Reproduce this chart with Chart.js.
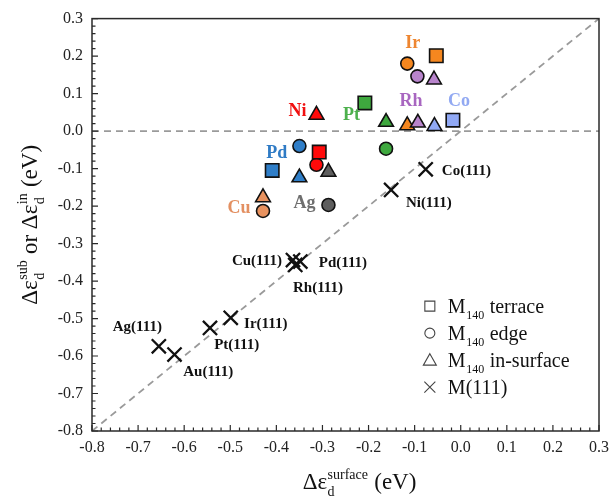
<!DOCTYPE html>
<html lang="en">
  <head>
    <meta charset="utf-8">
    <script src="https://cdn.jsdelivr.net/npm/chart.js"></script>
    <title>d-band centre shifts</title>
    <style>
      body { margin: 0; background: #fff; }
    </style>
  </head>
  <body>
    <canvas id="chart" width="616" height="498"></canvas>
  </body>
  <script>
    // axis ticks
    const tickValues = [-0.8, -0.7, -0.6, -0.5, -0.4, -0.3, -0.2, -0.1, 0.0, 0.1, 0.2, 0.3];

    // colours of each metal
    const metalColors = {
      Ir: '#F5871F', Rh: '#B884CC', Co: '#91A9F5', Pt: '#3EA83E',
      Ni: '#FF0a0a', Pd: '#2F7EC8', Cu: '#E8925F', Ag: '#5E5E5E'
    };
    const labelColors = {
      Ir: '#EE8630', Rh: '#A866C0', Co: '#92A9F2', Pt: '#4DB04D',
      Ni: '#F01010', Pd: '#2F7BC5', Cu: '#E39062', Ag: '#6E6E6E'
    };

    // M140 terrace (squares)
    const terraceMetal = ['Ir', 'Pt', 'Co', 'Ni', 'Pd'];
    const terraceX = [-0.053, -0.208, -0.017, -0.307, -0.409];
    const terraceY = [0.201, 0.075, 0.029, -0.056, -0.105];

    // M140 edge (circles)
    const edgeMetal = ['Ir', 'Rh', 'Pt', 'Pd', 'Ni', 'Cu', 'Ag'];
    const edgeX = [-0.116, -0.094, -0.162, -0.350, -0.313, -0.429, -0.287];
    const edgeY = [0.180, 0.146, -0.047, -0.040, -0.090, -0.213, -0.197];

    // M140 in-surface (triangles)
    const inSurfMetal = ['Rh', 'Ni', 'Pt', 'Ir', 'Rh', 'Co', 'Ag', 'Pd', 'Cu'];
    const inSurfX = [-0.058, -0.313, -0.162, -0.116, -0.093, -0.057, -0.287, -0.350, -0.429];
    const inSurfY = [0.137, 0.043, 0.024, 0.015, 0.022, 0.013, -0.109, -0.124, -0.177];

    // M(111) (crosses)
    const slabNames = ['Co(111)', 'Ni(111)', 'Cu(111)', 'Pd(111)', 'Rh(111)', 'Ir(111)', 'Pt(111)', 'Ag(111)', 'Au(111)'];
    const slabX = [-0.076, -0.151, -0.364, -0.348, -0.359, -0.499, -0.544, -0.655, -0.621];
    const slabY = [-0.102, -0.157, -0.344, -0.348, -0.357, -0.498, -0.525, -0.574, -0.596];

    // text annotations (data coordinates)
    const metalLabels = [
      ['Ir', -0.104, 0.234], ['Rh', -0.108, 0.080], ['Co', -0.004, 0.080], ['Pt', -0.237, 0.043],
      ['Ni', -0.354, 0.053], ['Pd', -0.399, -0.059], ['Cu', -0.481, -0.205], ['Ag', -0.339, -0.194]
    ];
    const slabLabels = [
      ['Co(111)', -0.041, -0.106, 'left'], ['Ni(111)', -0.119, -0.191, 'left'],
      ['Cu(111)', -0.388, -0.348, 'right'], ['Pd(111)', -0.308, -0.351, 'left'],
      ['Rh(111)', -0.364, -0.418, 'left'], ['Ir(111)', -0.470, -0.516, 'left'],
      ['Pt(111)', -0.535, -0.572, 'left'], ['Ag(111)', -0.755, -0.524, 'left'],
      ['Au(111)', -0.602, -0.644, 'left']
    ];

    const serif = '"Liberation Serif", "Times New Roman", serif';
    const pts = (xs, ys) => xs.map((x, i) => ({ x: x, y: ys[i] }));

    // text with stacked sub/superscripts: parts are strings or {sub, sup}
    function richWidth(ctx, parts, size) {
      let w = 0;
      parts.forEach(p => {
        if (typeof p === 'string') {
          ctx.font = size + 'px ' + serif;
          w += ctx.measureText(p).width;
        } else {
          ctx.font = Math.round(size * 0.62) + 'px ' + serif;
          w += Math.max(ctx.measureText(p.sub || '').width, ctx.measureText(p.sup || '').width) + 1;
        }
      });
      return w;
    }
    function drawRich(ctx, parts, x, y, size, align) {
      let cx = align === 'center' ? x - richWidth(ctx, parts, size) / 2 : x;
      ctx.textAlign = 'left';
      ctx.textBaseline = 'alphabetic';
      parts.forEach(p => {
        if (typeof p === 'string') {
          ctx.font = size + 'px ' + serif;
          ctx.fillText(p, cx, y);
          cx += ctx.measureText(p).width;
        } else {
          const s = Math.round(size * 0.62);
          ctx.font = s + 'px ' + serif;
          if (p.sub) ctx.fillText(p.sub, cx + 0.5, y + size * 0.3);
          if (p.sup) ctx.fillText(p.sup, cx + 0.5, y - size * 0.42);
          cx += Math.max(ctx.measureText(p.sub || '').width, ctx.measureText(p.sup || '').width) + 1;
        }
      });
    }

    function drawMarker(ctx, style, x, y) {
      ctx.beginPath();
      if (style === 'rect') {
        ctx.rect(x - 5, y - 5, 10, 10);
      } else if (style === 'circle') {
        ctx.arc(x, y, 5, 0, Math.PI * 2);
      } else if (style === 'triangle') {
        ctx.moveTo(x, y - 6.5);
        ctx.lineTo(x + 6.5, y + 5);
        ctx.lineTo(x - 6.5, y + 5);
        ctx.closePath();
      } else {
        ctx.moveTo(x - 5.5, y - 5.5); ctx.lineTo(x + 5.5, y + 5.5);
        ctx.moveTo(x + 5.5, y - 5.5); ctx.lineTo(x - 5.5, y + 5.5);
      }
      ctx.stroke();
    }

    const decorPlugin = {
      id: 'decor',
      afterDraw(chart) {
        const ctx = chart.ctx;
        const a = chart.chartArea;
        const xs = chart.scales.x, ys = chart.scales.y;
        ctx.save();
        // frame
        ctx.strokeStyle = '#2a2a2a';
        ctx.lineWidth = 1.5;
        ctx.strokeRect(a.left, a.top, a.right - a.left, a.bottom - a.top);
        // inward ticks
        ctx.lineWidth = 1.2;
        ctx.beginPath();
        for (let i = 0; i <= 55; i++) {
          const v = -0.8 + i * 0.02;
          const len = i % 5 === 0 ? 6 : 3.5;
          const px = xs.getPixelForValue(v);
          ctx.moveTo(px, a.bottom); ctx.lineTo(px, a.bottom - len);
          const py = ys.getPixelForValue(v);
          ctx.moveTo(a.left, py); ctx.lineTo(a.left + len, py);
        }
        ctx.stroke();

        // metal labels
        ctx.font = 'bold 18px ' + serif;
        ctx.textAlign = 'center';
        ctx.textBaseline = 'middle';
        metalLabels.forEach(l => {
          ctx.fillStyle = labelColors[l[0]];
          ctx.fillText(l[0], xs.getPixelForValue(l[1]), ys.getPixelForValue(l[2]));
        });
        // slab labels
        ctx.font = 'bold 15px ' + serif;
        ctx.fillStyle = '#111';
        slabLabels.forEach(l => {
          ctx.textAlign = l[3];
          ctx.fillText(l[0], xs.getPixelForValue(l[1]), ys.getPixelForValue(l[2]));
        });

        // axis titles
        ctx.fillStyle = '#111';
        drawRich(ctx, ['Δε', { sub: 'd', sup: 'surface' }, ' (eV)'], (a.left + a.right) / 2 + 14, 489, 23, 'center');
        ctx.save();
        ctx.translate(37, (a.top + a.bottom) / 2);
        ctx.rotate(-Math.PI / 2);
        drawRich(ctx, ['Δε', { sub: 'd', sup: 'sub' }, ' or Δε', { sub: 'd', sup: 'in' }, ' (eV)'], 0, 0, 23, 'center');
        ctx.restore();

        // legend
        const legend = [
          ['rect', ['M', { sub: '140' }, ' terrace']],
          ['circle', ['M', { sub: '140' }, ' edge']],
          ['triangle', ['M', { sub: '140' }, ' in-surface']],
          ['cross', ['M(111)']]
        ];
        const lx = xs.getPixelForValue(-0.067), ly0 = ys.getPixelForValue(-0.467);
        legend.forEach((row, i) => {
          const y = ly0 + i * 27;
          ctx.strokeStyle = '#444';
          ctx.lineWidth = 1.1;
          drawMarker(ctx, row[0], lx, y);
          ctx.fillStyle = '#111';
          drawRich(ctx, row[1], lx + 18, y + 6.5, 20, 'left');
        });
        ctx.restore();
      }
    };

    const scatterSet = (label, data, metals, style, radius) => ({
      type: 'scatter',
      label: label,
      data: data,
      pointStyle: style,
      pointRadius: radius,
      pointHoverRadius: radius,
      pointBackgroundColor: metals.map(m => metalColors[m]),
      pointBorderColor: '#111',
      pointBorderWidth: 1.6,
      order: 1
    });

    const dashedLine = (data) => ({
      type: 'line',
      data: data,
      borderColor: '#9a9a9a',
      borderWidth: 1.8,
      borderDash: [7, 5],
      pointRadius: 0,
      fill: false,
      order: 10
    });

    new Chart(document.getElementById('chart'), {
      type: 'scatter',
      data: {
        datasets: [
          dashedLine([{ x: -0.8, y: 0 }, { x: 0.3, y: 0 }]),
          dashedLine([{ x: -0.8, y: -0.8 }, { x: 0.3, y: 0.3 }]),
          scatterSet('M140 terrace', pts(terraceX, terraceY), terraceMetal, 'rect', 9.5),
          scatterSet('M140 edge', pts(edgeX, edgeY), edgeMetal, 'circle', 6.5),
          scatterSet('M140 in-surface', pts(inSurfX, inSurfY), inSurfMetal, 'triangle', 8.5),
          {
            type: 'scatter',
            label: 'M(111)',
            data: pts(slabX, slabY),
            pointStyle: 'crossRot',
            pointRadius: 10,
            pointHoverRadius: 10,
            pointBorderColor: '#111',
            pointBorderWidth: 2.3,
            order: 0
          }
        ]
      },
      options: {
        responsive: false,
        animation: false,
        layout: { padding: { top: 17, right: 14, left: 0, bottom: 0 } },
        plugins: { legend: { display: false }, tooltip: { enabled: false } },
        scales: {
          x: {
            type: 'linear',
            min: -0.8, max: 0.3,
            afterBuildTicks: s => { s.ticks = tickValues.map(v => ({ value: v })); },
            afterFit: s => { s.height = 67; },
            grid: { display: false, drawTicks: false },
            border: { display: false },
            ticks: {
              padding: 7,
              color: '#222',
              font: { family: serif, size: 16 },
              callback: v => (Math.abs(v) < 1e-9 ? 0 : v).toFixed(1)
            }
          },
          y: {
            type: 'linear',
            min: -0.8, max: 0.3,
            afterBuildTicks: s => { s.ticks = tickValues.map(v => ({ value: v })); },
            afterFit: s => { s.width = 92; },
            grid: { display: false, drawTicks: false },
            border: { display: false },
            ticks: {
              padding: 9,
              color: '#222',
              font: { family: serif, size: 16 },
              callback: v => (Math.abs(v) < 1e-9 ? 0 : v).toFixed(1)
            }
          }
        }
      },
      plugins: [decorPlugin]
    });
  </script>
</html>
